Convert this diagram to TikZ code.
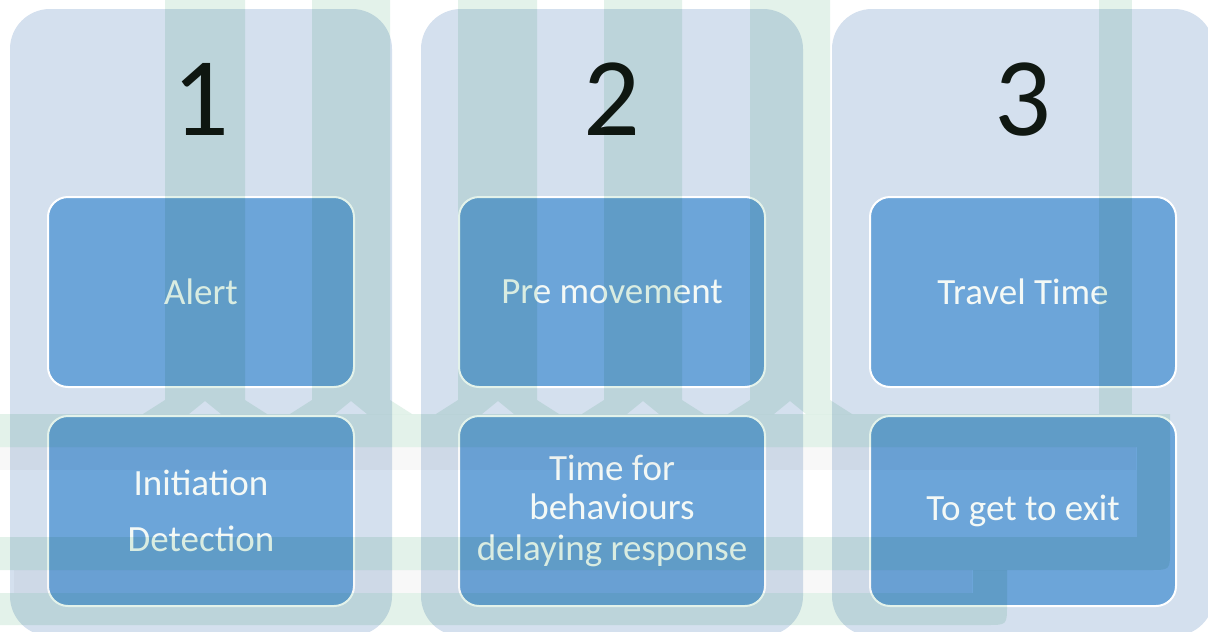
\documentclass[tikz,border=0pt]{standalone}
\usepackage{fontspec}
\setmainfont{Carlito}
\usetikzlibrary{positioning}

\definecolor{colfill}{HTML}{D4E0EE}
\definecolor{boxfill}{HTML}{6CA5D9}
\definecolor{boxtext}{HTML}{F4F9F6}
\definecolor{numtext}{HTML}{101812}
\definecolor{ghostgreen}{HTML}{E3F2EA}
\definecolor{ghostgrey}{HTML}{F8F8F8}

\begin{document}
\begin{tikzpicture}[x=1pt, y=-1pt,
    stagecol/.style={fill=colfill, rounded corners=40pt, minimum width=382pt, minimum height=627pt, inner sep=0pt, outer sep=0pt},
    stagenum/.style={text=numtext, font=\fontsize{112}{112}\selectfont, inner sep=0pt},
    stepbox/.style={draw=white, line width=2pt, fill=boxfill, rounded corners=20pt, minimum width=306pt, minimum height=190pt,
        inner sep=0pt, outer sep=0pt, text=boxtext, align=center, font=\fontsize{37}{41.5}\selectfont}]

    \clip (0,0) rectangle (1208,632);
    \fill[white] (0,0) rectangle (1208,632);

    % Define nodes
    \node (colA) [stagecol] at (201,322.5) {};
    \node (colB) [stagecol, right=29pt of colA] {};
    \node (colC) [stagecol, right=29pt of colB] {};

    \node (numA) [stagenum, below=54pt of colA.north] {1};
    \node (numB) [stagenum, below=54pt of colB.north] {2};
    \node (numC) [stagenum, below=54pt of colC.north] {3};

    \node (alert) [stepbox, below=188pt of colA.north] {Alert};
    \node (detect) [stepbox, below=29pt of alert] {Initiation\\[15pt]Detection};
    \node (premove) [stepbox, below=188pt of colB.north] {Pre movement};
    \node (delay) [stepbox, below=29pt of premove] {\raisebox{-3pt}{Time for}\\behaviours\\delaying response};
    \node (travel) [stepbox, below=188pt of colC.north] {Travel Time};
    \node (exit) [stepbox, below=29pt of travel] {To get to exit};

    % faded arrows showing through from behind
    \begin{scope}[blend mode=multiply]
    \fill[ghostgreen] (165,0) -- (165,400) -- (143,414) -- (189,414) -- (205,401) -- (221,414) -- (267,414) -- (245,400) -- (245,0) -- cycle;
    \fill[ghostgreen] (312,0) -- (312,400) -- (290,414) -- (335,414) -- (351,401) -- (367,414) -- (412,414) -- (390,400) -- (390,0) -- cycle;
    \fill[ghostgreen] (458,0) -- (458,400) -- (436,414) -- (482,414) -- (498,401) -- (514,414) -- (559,414) -- (537,400) -- (537,0) -- cycle;
    \fill[ghostgreen] (604,0) -- (604,400) -- (582,414) -- (627,414) -- (643,401) -- (659,414) -- (704,414) -- (682,400) -- (682,0) -- cycle;
    \fill[ghostgreen] (750,0) -- (750,400) -- (728,414) -- (774,414) -- (790,401) -- (806,414) -- (852,414) -- (830,400) -- (830,0) -- cycle;
    \fill[ghostgreen] (1099,0) rectangle (1132,414);
    \fill[ghostgreen] (0,414) -- (1170,414) -- (1170,550) .. controls (1170,570) .. (1150,570) -- (0,570) -- (0,537)
        -- (1137,537) -- (1137,447) -- (0,447) -- cycle;
    \fill[ghostgreen] (973,570) -- (1007,570) -- (1007,605) .. controls (1007,625) .. (987,625) -- (0,625) -- (0,593)
        -- (973,593) -- cycle;
    \fill[ghostgrey] (0,447) rectangle (1136,470);
    \fill[ghostgrey] (14,570) rectangle (972,593);
    \end{scope}

\end{tikzpicture}
\end{document}
